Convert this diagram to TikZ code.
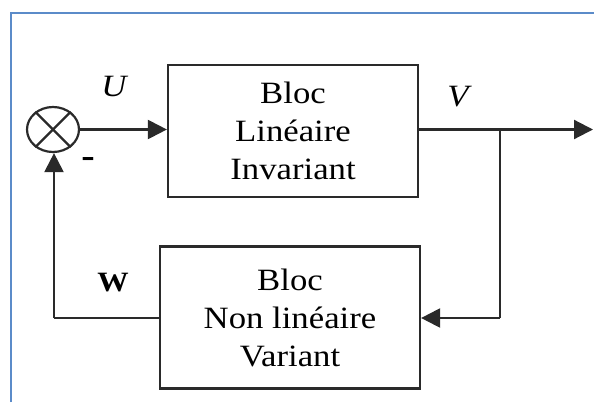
\documentclass[tikz,border=0pt]{standalone}
\usepackage{fontspec}
\setmainfont[FakeStretch=1.12]{Liberation Serif}
\usetikzlibrary{arrows.meta,shapes.geometric}

\definecolor{frameblue}{HTML}{5B8BC9}
\definecolor{wire}{HTML}{2A2A2A}

\tikzset{
  wirepath/.style={draw=wire, line width=2.2pt},
  sig/.style={wirepath, -{Triangle[length=19pt,width=19pt]}},
  blockbox/.style={draw=wire, line width=2.2pt, align=center, inner sep=0pt,
    font=\fontsize{31}{38}\selectfont},
  lbl/.style={inner sep=0pt},
}

\begin{document}
\begin{tikzpicture}[x=1pt, y=-1pt]
  \useasboundingbox (0,0) rectangle (594,402);

  % frame around the figure
  \draw[frameblue, line width=1.5pt] (11,402) -- (11,13) -- (594,13);

  % summing junction
  \node[draw=wire, line width=2.2pt, ellipse, minimum width=52pt, minimum height=45pt,
        inner sep=0pt] (sum) at (53,129.5) {};
  \draw[wirepath] (sum.45) -- (sum.225);
  \draw[wirepath] (sum.135) -- (sum.315);

  % blocks
  \node[blockbox, minimum width=250pt, minimum height=132pt] (lin) at (293,131)
    {Bloc\\Linéaire\\Invariant};
  \node[blockbox, minimum width=260pt, minimum height=142pt] (nlin) at (290,317.5)
    {Bloc\\Non linéaire\\Variant};

  % branch point and output end
  \coordinate (branch) at (500,129.5);
  \coordinate (out) at (593,129.5);
  \coordinate (fbr) at (500,318);
  \coordinate (fbl) at (54,318);

  % forward path
  \draw[sig] (sum.east) -- (sum.east -| lin.west);
  \draw[sig] (lin.east |- branch) -- (out);

  % feedback path
  \draw[wirepath] (branch) -- (fbr);
  \draw[sig] (fbr) -- (nlin.east |- fbr);
  \draw[wirepath] (nlin.west |- fbl) -- (fbl);
  \draw[sig] (fbl) -- (fbl |- sum.south);

  % signal labels
  \node[lbl, font=\fontsize{31}{38}\selectfont\itshape] (u) at (114,86) {U};
  \node[lbl, font=\fontsize{31}{38}\selectfont\itshape] (v) at (458,97) {V};
  \node[lbl, font=\fontsize{28}{34}\selectfont\bfseries] (w) at (113,283) {W};
  \node[lbl, font=\fontsize{36}{40}\selectfont\bfseries] (minus) at (88,162) {-};
\end{tikzpicture}
\end{document}
